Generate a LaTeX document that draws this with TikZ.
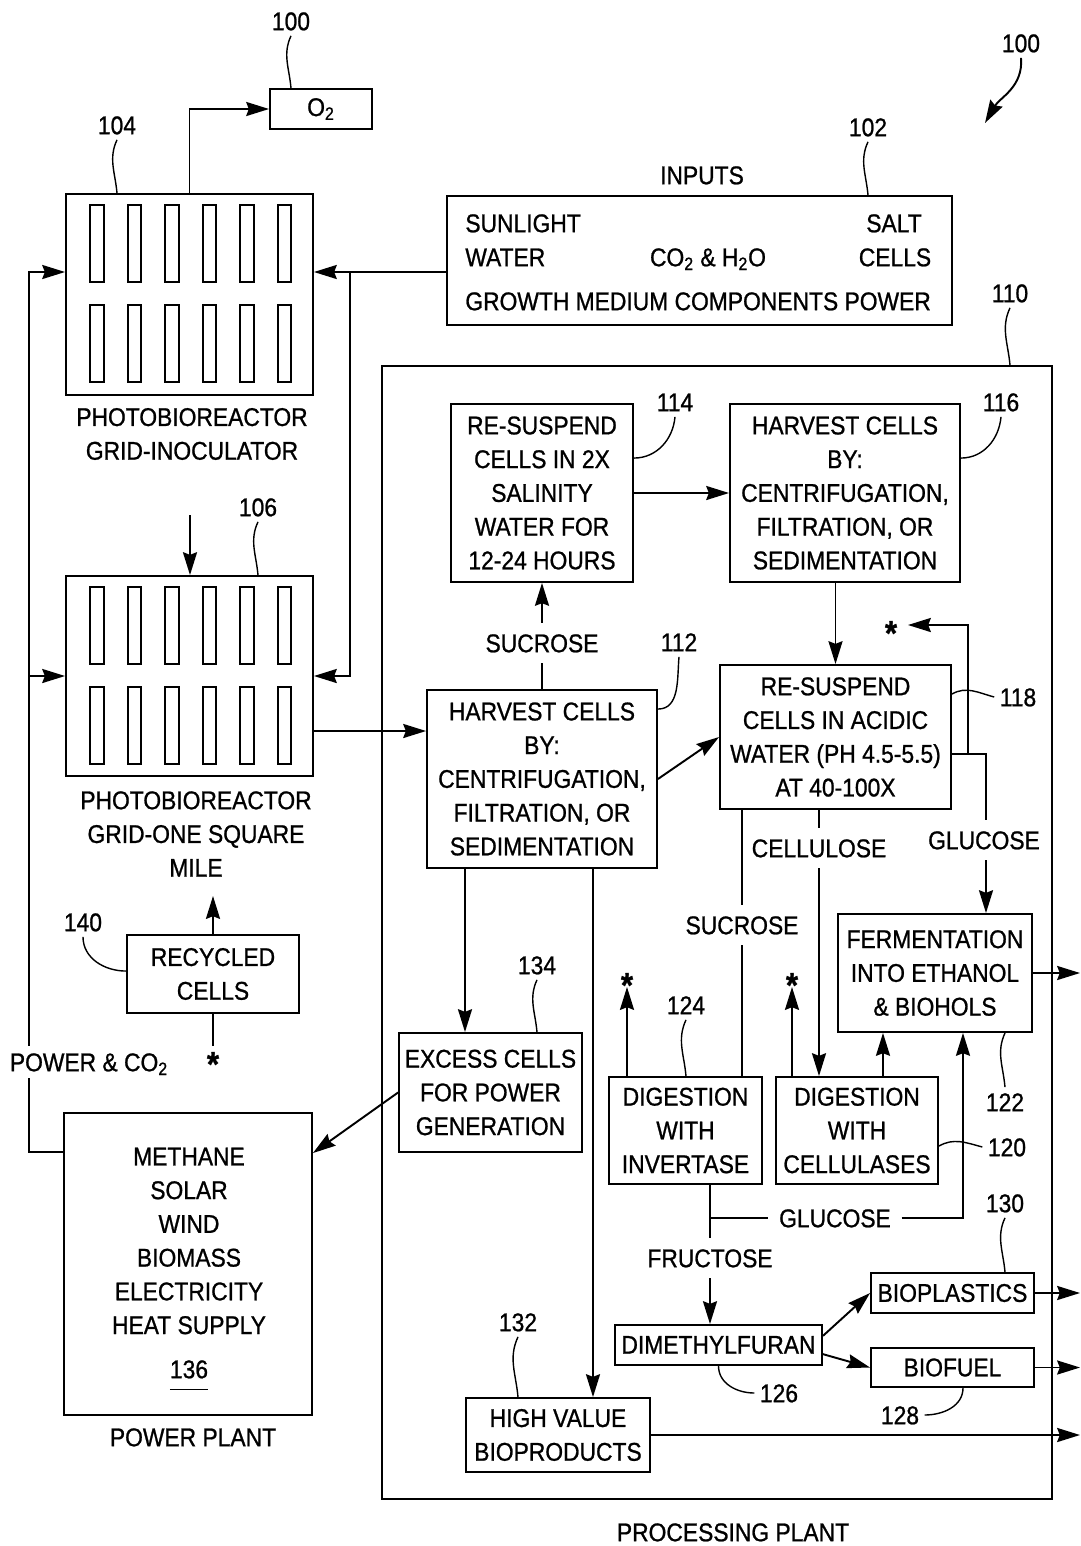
\documentclass[tikz,border=0pt]{standalone}
\usepackage{fontspec}
\setmainfont{Liberation Sans}[FakeStretch=0.89, FakeBold=0.9]
\usepackage{tikz}
\usetikzlibrary{
  arrows.meta,
  calc,
  positioning
}
\newcommand{\figfont}{\fontsize{14.6pt}{19.2pt}\selectfont}
\tikzset{
  blk/.style={draw, line width=1.1pt, inner sep=0pt, align=center, font=\figfont},
  txt/.style={font=\figfont, align=center, inner sep=2pt},
  lbl/.style={font=\figfont, inner sep=2pt, text height=10.5pt, text depth=0pt},
  linelbl/.style={lbl, inner sep=6pt},
  reflbl/.style={lbl, inner sep=3pt},
  starmark/.style={font=\fontsize{20pt}{20pt}\selectfont\bfseries, inner sep=2pt, text height=7pt, text depth=0pt},
  tube/.style={draw, line width=1.1pt},
  pipe/.style={line width=1.1pt},
  flow/.style={-{Stealth[length=13pt, width=8pt, inset=1.5pt]}, line width=1.1pt},
  lead/.style={line width=0.8pt}
}

\begin{document}
\begin{tikzpicture}[x=0.02cm, y=-0.02cm]
  \useasboundingbox (0,0) rectangle (1081,1546);

  % reactors, inputs and power plant
  \node[blk, minimum width=2.04cm, minimum height=0.8cm] (o2) at (321,109) {O\textsubscript{2}};
  \node[blk, minimum width=4.94cm, minimum height=4.02cm] (pbr1) at (189.5,294.5) {};
  \node[txt] (pbr1lbl) at (192,434) {PHOTOBIOREACTOR\\GRID-INOCULATOR};
  \node[blk, minimum width=4.94cm, minimum height=4cm] (pbr2) at (189.5,676) {};
  \node[txt] (pbr2lbl) at (196,834) {PHOTOBIOREACTOR\\GRID-ONE SQUARE\\MILE};
  \foreach \b in {pbr1,pbr2}{
    \foreach \i in {0,...,5}{
      \draw[tube] ($(\b.north west)+(25+37.5*\i,12)$) rectangle ++(13.5,77);
      \draw[tube] ($(\b.north west)+(25+37.5*\i,112)$) rectangle ++(13.5,77);
    }
  }
  \node[blk, minimum width=10.1cm, minimum height=2.58cm] (inputs) at (699.5,260.5) {};
  \node[lbl] (inlbl) at (702,175) {INPUTS};
  \node[lbl, anchor=west] (sun) at (461.5,223) {SUNLIGHT};
  \node[lbl, anchor=west] (wat) at (461.5,257) {WATER};
  \node[lbl] (co2) at (708,257) {CO\textsubscript{2} \& H\textsubscript{2}O};
  \node[lbl] (salt) at (894,223) {SALT};
  \node[lbl] (cells) at (895,257) {CELLS};
  \node[lbl, anchor=west] (grow) at (461.5,301) {GROWTH MEDIUM COMPONENTS POWER};
  \node[blk, minimum width=3.44cm, minimum height=1.56cm] (recyc) at (213,974) {RECYCLED\\CELLS};
  \node[blk, minimum width=4.96cm, minimum height=6.04cm] (power) at (188,1264) {};
  \node[txt] (pwrtxt) at (189,1241) {METHANE\\SOLAR\\WIND\\BIOMASS\\ELECTRICITY\\HEAT SUPPLY};
  \node[lbl] (n136) at (189,1369) {\underline{\rule[-5pt]{0pt}{1pt}136}};
  \node[lbl] (pwrlbl) at (193,1437) {POWER PLANT};

  % processing plant
  \node[draw, line width=1.1pt, inner sep=0pt, minimum width=13.4cm, minimum height=22.66cm] (plant) at (717,932.5) {};
  \node[lbl] (plantlbl) at (733,1532) {PROCESSING PLANT};
  \node[blk, minimum width=3.64cm, minimum height=3.56cm] (resus2x) at (542,493) {RE-SUSPEND\\CELLS IN 2X\\SALINITY\\WATER FOR\\12-24 HOURS};
  \node[blk, minimum width=4.6cm, minimum height=3.56cm] (harv2) at (845,493) {HARVEST CELLS\\BY:\\CENTRIFUGATION,\\FILTRATION, OR\\SEDIMENTATION};
  \node[blk, minimum width=4.6cm, minimum height=3.56cm] (harv1) at (542,779) {HARVEST CELLS\\BY:\\CENTRIFUGATION,\\FILTRATION, OR\\SEDIMENTATION};
  \node[blk, minimum width=4.62cm, minimum height=2.88cm] (acid) at (835.5,737) {RE-SUSPEND\\CELLS IN ACIDIC\\WATER (PH 4.5-5.5)\\AT 40-100X};
  \node[blk, minimum width=3.66cm, minimum height=2.38cm] (excess) at (490.5,1092.5) {EXCESS CELLS\\FOR POWER\\GENERATION};
  \node[blk, minimum width=3.06cm, minimum height=2.14cm] (invert) at (685.5,1130.5) {DIGESTION\\WITH\\INVERTASE};
  \node[blk, minimum width=3.24cm, minimum height=2.14cm] (cellul) at (857,1130.5) {DIGESTION\\WITH\\CELLULASES};
  \node[blk, minimum width=3.88cm, minimum height=2.36cm] (ferment) at (935,973) {FERMENTATION\\INTO ETHANOL\\\& BIOHOLS};
  \node[blk, minimum width=4.14cm, minimum height=0.8cm] (dmf) at (718.5,1345) {DIMETHYLFURAN};
  \node[blk, minimum width=3.26cm, minimum height=0.8cm] (bioplast) at (952.5,1293) {BIOPLASTICS};
  \node[blk, minimum width=3.26cm, minimum height=0.78cm] (biofuel) at (952.5,1367.5) {BIOFUEL};
  \node[blk, minimum width=3.68cm, minimum height=1.48cm] (hival) at (558,1435) {HIGH VALUE\\BIOPRODUCTS};

  % stream labels and asterisks
  \node[linelbl] (suc1) at (542,643) {SUCROSE};
  \node[linelbl] (suc2) at (742,925) {SUCROSE};
  \node[linelbl] (cel) at (819,848) {CELLULOSE};
  \node[linelbl] (glu1) at (984,840) {GLUCOSE};
  \node[linelbl] (glu2) at (835,1218) {GLUCOSE};
  \node[linelbl] (fru) at (710,1258) {FRUCTOSE};
  \node[starmark] (star0) at (213,1056) {\raisebox{-8pt}{*}};
  \node[starmark] (star1) at (891,625) {\raisebox{-8pt}{*}};
  \node[starmark] (star2) at (627,977) {\raisebox{-8pt}{*}};
  \node[starmark] (star3) at (792,977) {\raisebox{-8pt}{*}};

  % helper points
  \coordinate (inj) at (350,272);
  \coordinate (fbk1) at (29,272);
  \coordinate (fbk2) at (29,676);
  \coordinate (seed) at (190,515);
  \coordinate (xexc) at (465,0);
  \coordinate (xhv) at (593,0);
  \coordinate (jstar) at (968,754);
  \coordinate (xglu) at (986,754);
  \coordinate (xc) at (883,0);
  \coordinate (jglu) at (710,1218);
  \coordinate (xg2) at (963,1218);
  \coordinate (rim) at (1080,0);
  \coordinate (figpt) at (985,123);

  % connectors
  \draw[flow] (pbr1.north) |- (o2.west);
  \draw[flow] (inputs.west |- inj) -- (pbr1.east |- inj);
  \draw[flow] (inj) |- (pbr2.east);
  \draw[flow] ($(power.north west)+(0,40)$) -| (fbk1) -- (pbr1.west |- fbk1);
  \draw[flow] (fbk2) -- (pbr2.west);
  \node[lbl, fill=white, inner sep=4pt] (pwrco) at (89,1062) {POWER \& CO\textsubscript{2}};
  \draw[flow] (seed) -- (seed |- pbr2.north);
  \draw[flow, shorten >=8.8pt] (recyc.north) -- (recyc.north |- pbr2lbl.south);
  \draw[pipe] (recyc.south) -- (star0);
  \draw[flow] ($(pbr2.east)+(0,55)$) coordinate (p106) -- (p106 -| harv1.west);
  \draw[pipe] (harv1.north) -- (suc1);
  \draw[flow] (suc1) -- (resus2x.south);
  \draw[flow] (resus2x) -- (harv2);
  \draw[flow] (harv2.south -| acid.north) -- (acid.north);
  \draw[flow] (harv1.east) -- (acid.west);
  \draw[flow] (harv1.south -| xexc) -- (excess.north -| xexc);
  \draw[flow] (harv1.south -| xhv) -- (hival.north -| xhv);
  \draw[flow] (excess.west) -- ($(power.north east)+(0,41)$);
  \draw[pipe] (acid.south -| suc2) -- (suc2);
  \draw[pipe] (suc2) -- (invert.north -| suc2);
  \draw[pipe] (acid.south -| cel) -- (cel);
  \draw[flow] (cel) -- (cellul.north -| cel);
  \draw[pipe] (acid.east |- xglu) -- (xglu) -- (xglu |- glu1.north);
  \draw[flow] (xglu |- glu1.south) -- (xglu |- ferment.north);
  \draw[flow, shorten >=4pt] (jstar) |- (star1);
  \draw[flow] (cellul.north -| xc) -- (ferment.south -| xc);
  \draw[flow] (cellul.north -| star3) -- (star3);
  \draw[flow] (invert.north -| star2) -- (star2);
  \draw[pipe] (invert.south -| fru) -- (fru);
  \draw[flow] (fru) -- (dmf.north -| fru);
  \draw[pipe] (jglu) -- (glu2);
  \draw[flow] (glu2) -- (xg2) -- (xg2 |- ferment.south);
  \draw[flow] (dmf.5) -- (bioplast.west);
  \draw[flow] (dmf.-5) -- (biofuel.west);
  \draw[flow] (ferment.east) -- (ferment.east -| rim);
  \draw[flow] (bioplast.east) -- (bioplast.east -| rim);
  \draw[flow] (biofuel.east) -- (biofuel.east -| rim);
  \draw[flow] (hival.east) -- (hival.east -| rim);

  % reference numerals
  \node[reflbl] (n100a) at (291,21) {100};
  \node[reflbl] (n100b) at (1021,43) {100};
  \node[reflbl] (n104) at (117,125) {104};
  \node[reflbl] (n102) at (868,127) {102};
  \node[reflbl] (n110) at (1010,293) {110};
  \node[reflbl] (n106) at (258,507) {106};
  \node[reflbl] (n114) at (675,402) {114};
  \node[reflbl] (n116) at (1001,402) {116};
  \node[reflbl] (n112) at (679,642) {112};
  \node[reflbl] (n118) at (1018,697) {118};
  \node[reflbl] (n140) at (83,922) {140};
  \node[reflbl] (n134) at (537,965) {134};
  \node[reflbl] (n124) at (686,1005) {124};
  \node[reflbl] (n122) at (1005,1102) {122};
  \node[reflbl] (n120) at (1007,1147) {120};
  \node[reflbl] (n130) at (1005,1203) {130};
  \node[reflbl] (n132) at (518,1322) {132};
  \node[reflbl] (n126) at (779,1393) {126};
  \node[reflbl] (n128) at (900,1415) {128};
  \draw[lead] (n100a.south) to[out=-115,in=95] (o2.north -| n100a);
  \draw[flow] (n100b.south) to[out=-85,in=60] (figpt);
  \draw[lead] (n104.south) to[out=-115,in=95] (pbr1.north -| n104);
  \draw[lead] (n102.south) to[out=-115,in=95] (inputs.north -| n102);
  \draw[lead] (n110.south) to[out=-115,in=95] (plant.north -| n110);
  \draw[lead] (n106.south) to[out=-115,in=95] (pbr2.north -| n106);
  \draw[lead] (n114.south) to[out=-95,in=0] ($(resus2x.north east)+(0,55)$);
  \draw[lead] (n116.south) to[out=-95,in=0] ($(harv2.north east)+(0,55)$);
  \draw[lead] (n112.south) to[out=-95,in=0] ($(harv1.north east)+(0,20)$);
  \draw[lead] ($(acid.north east)+(0,30)$) to[out=30,in=165] (n118.west);
  \draw[lead] ($(cellul.north east)+(0,70)$) to[out=30,in=165] (n120.west);
  \draw[lead] (n140.south) to[out=-90,in=180] ($(recyc.north west)+(0,37)$);
  \draw[lead] (n134.south) to[out=-115,in=95] (excess.north -| n134);
  \draw[lead] (n124.south) to[out=-115,in=95] (invert.north -| n124);
  \draw[lead] (ferment.south -| n122) to[out=-115,in=95] (n122.north);
  \draw[lead] (n130.south) to[out=-115,in=95] (bioplast.north -| n130);
  \draw[lead] (n132.south) to[out=-115,in=95] (hival.north -| n132);
  \draw[lead] (dmf.south) to[out=-90,in=180] (n126.west);
  \draw[lead] (n128.east) to[out=0,in=-90] (biofuel.south -| xg2);
\end{tikzpicture}
\end{document}
